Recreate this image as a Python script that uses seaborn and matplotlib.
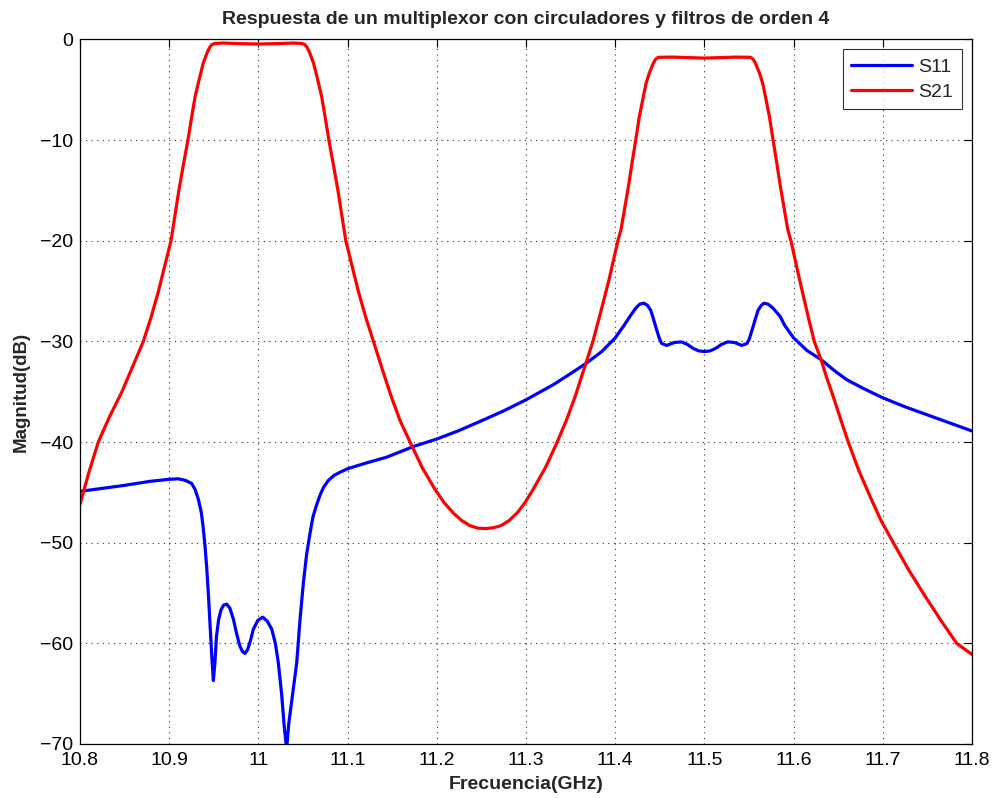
import matplotlib
matplotlib.use("Agg")
import matplotlib.pyplot as plt
import seaborn as sns
import pandas as pd

# S21 (red)
s21_freq = [10.800, 10.810, 10.8205, 10.833, 10.847, 10.859, 10.871, 10.880, 10.888, 10.895,
            10.902, 10.911, 10.916, 10.921, 10.925, 10.929, 10.9335, 10.938, 10.943, 10.946,
            10.948, 10.951, 10.960, 10.975, 11.000, 11.025, 11.040, 11.049, 11.052, 11.054,
            11.057, 11.062, 11.0665, 11.071, 11.075, 11.079, 11.084, 11.089, 11.098, 11.105,
            11.112, 11.120, 11.129, 11.139, 11.149, 11.159, 11.170, 11.184, 11.198, 11.208,
            11.2185, 11.228, 11.237, 11.246, 11.255, 11.264, 11.272, 11.281, 11.290, 11.299,
            11.308, 11.322, 11.335, 11.345, 11.355, 11.367, 11.375, 11.384, 11.393, 11.403,
            11.4065, 11.415, 11.419, 11.423, 11.427, 11.4315, 11.4345, 11.438, 11.443, 11.4455,
            11.4483, 11.465, 11.500, 11.535, 11.5517, 11.5545, 11.557, 11.562, 11.5655, 11.5685,
            11.573, 11.577, 11.581, 11.585, 11.5935, 11.597, 11.604, 11.611, 11.617, 11.6232,
            11.6307, 11.6375, 11.6445, 11.653, 11.6613, 11.673, 11.6857, 11.698, 11.7118, 11.729,
            11.7473, 11.765, 11.7828, 11.800]
s21_db = [-46.2, -43.0, -40.0, -37.5, -35.0, -32.5, -30.0, -27.5, -25.0, -22.5,
          -20.0, -14.9, -12.4, -10.0, -7.8, -5.7, -4.0, -2.4, -1.2, -0.7,
          -0.5, -0.4, -0.35, -0.4, -0.45, -0.4, -0.35, -0.4, -0.5, -0.7,
          -1.2, -2.4, -4.0, -5.7, -7.8, -10.0, -12.4, -14.9, -20.0, -22.5,
          -25.0, -27.5, -30.0, -32.8, -35.5, -37.9, -40.0, -42.6, -44.7, -46.0,
          -47.05, -47.8, -48.3, -48.55, -48.6, -48.5, -48.3, -47.8, -47.05, -46.0,
          -44.7, -42.5, -40.0, -37.9, -35.5, -32.2, -30.0, -27.0, -23.9, -20.0,
          -18.9, -14.5, -12.2, -10.0, -7.7, -5.7, -4.4, -3.4, -2.3, -1.95,
          -1.77, -1.75, -1.85, -1.75, -1.77, -1.95, -2.3, -3.4, -4.4, -5.7,
          -7.7, -10.0, -12.2, -14.5, -18.9, -20.0, -22.8, -25.5, -27.8, -30.0,
          -31.8, -33.7, -35.5, -37.8, -40.0, -42.8, -45.4, -47.8, -50.0, -52.7,
          -55.3, -57.7, -60.0, -61.1]

# S11 (blue)
s11_freq = [10.800, 10.850, 10.8785, 10.900, 10.910, 10.918, 10.925, 10.929, 10.9327, 10.936,
            10.938, 10.940, 10.942, 10.944, 10.9457, 10.9477, 10.9495, 10.9512, 10.953, 10.9555,
            10.958, 10.961, 10.9645, 10.968, 10.972, 10.9755, 10.979, 10.982, 10.985, 10.988,
            10.9915, 10.9943, 10.9995, 11.0048, 11.010, 11.015, 11.019, 11.0223, 11.026, 11.029,
            11.0317, 11.034, 11.038, 11.043, 11.0465, 11.0504, 11.054, 11.058, 11.061, 11.065,
            11.069, 11.073, 11.0785, 11.085, 11.0915, 11.100, 11.120, 11.1438, 11.175, 11.200,
            11.225, 11.2484, 11.275, 11.300, 11.3306, 11.350, 11.367, 11.385, 11.400, 11.410,
            11.4166, 11.423, 11.4275, 11.4323, 11.436, 11.4398, 11.443, 11.4465, 11.4495, 11.4521,
            11.4577, 11.462, 11.4665, 11.4745, 11.481, 11.4875, 11.494, 11.500, 11.506, 11.5125,
            11.519, 11.526, 11.5335, 11.538, 11.5418, 11.5479, 11.5505, 11.5535, 11.557, 11.5602,
            11.564, 11.5668, 11.5715, 11.577, 11.5848, 11.590, 11.600, 11.615, 11.6307, 11.645,
            11.6595, 11.680, 11.700, 11.725, 11.750, 11.775, 11.800]
s11_db = [-44.9, -44.3, -43.9, -43.7, -43.65, -43.8, -44.1, -44.7, -45.7, -47.0,
          -48.4, -50.2, -52.4, -55.2, -58.0, -61.2, -63.7, -62.0, -59.3, -57.6,
          -56.7, -56.2, -56.1, -56.5, -57.6, -59.0, -60.2, -60.8, -61.0, -60.6,
          -59.6, -58.6, -57.7, -57.4, -57.8, -58.6, -60.0, -61.9, -65.0, -68.3,
          -70.5, -68.0, -65.3, -61.9, -57.8, -54.0, -51.2, -49.0, -47.5, -46.3,
          -45.3, -44.5, -43.8, -43.3, -43.0, -42.65, -42.1, -41.5, -40.4, -39.7,
          -38.85, -37.95, -36.9, -35.8, -34.3, -33.2, -32.2, -31.0, -29.65, -28.4,
          -27.5, -26.7, -26.3, -26.2, -26.4, -26.9, -27.8, -28.85, -29.7, -30.2,
          -30.4, -30.25, -30.1, -30.05, -30.3, -30.7, -30.95, -31.0, -30.95, -30.7,
          -30.3, -30.05, -30.1, -30.25, -30.4, -30.2, -29.7, -28.85, -27.8, -26.9,
          -26.4, -26.2, -26.3, -26.7, -27.5, -28.4, -29.65, -30.9, -31.8, -32.85,
          -33.8, -34.75, -35.6, -36.5, -37.3, -38.1, -38.9]

x_ticks = [10.8, 10.9, 11.0, 11.1, 11.2, 11.3, 11.4, 11.5, 11.6, 11.7, 11.8]
x_tick_labels = ["10.8", "10.9", "11", "11.1", "11.2", "11.3", "11.4", "11.5", "11.6", "11.7", "11.8"]
y_ticks = [0, -10, -20, -30, -40, -50, -60, -70]

df = pd.concat([
    pd.DataFrame({"f": s11_freq, "db": s11_db, "serie": "S11"}),
    pd.DataFrame({"f": s21_freq, "db": s21_db, "serie": "S21"}),
], ignore_index=True)

sns.set_style("white")
plt.rcParams["font.family"] = ["Liberation Sans", "DejaVu Sans"]
plt.rcParams["axes.unicode_minus"] = True

fig = plt.figure(figsize=(9.95, 7.98), dpi=100)
ax = fig.add_axes([80 / 995, 1 - 744 / 798, 892 / 995, (744 - 39.5) / 798])

sns.lineplot(data=df, x="f", y="db", hue="serie", palette={"S11": "#0000ff", "S21": "#ff0000"},
             estimator=None, sort=True, linewidth=2.3, ax=ax)

ax.set_xlim(10.8, 11.8)
ax.set_ylim(-70, 0)
ax.set_xticks(x_ticks)
ax.set_xticklabels(x_tick_labels)
ax.set_yticks(y_ticks)
ax.grid(True, linestyle=(0, (1, 4)), color="#333333", linewidth=0.8)
ax.tick_params(direction="in", top=True, right=True, length=6, width=0.8,
               labelsize=14, colors="black")
ax.tick_params(axis="x", pad=6)
ax.tick_params(axis="y", pad=5)
for sp in ax.spines.values():
    sp.set_color("black")
    sp.set_linewidth(0.9)

ax.set_title("Respuesta de un multiplexor con circuladores y filtros de orden 4",
             fontsize=14, fontweight="bold", pad=11)
ax.set_xlabel("Frecuencia(GHz)", fontsize=14, fontweight="bold", labelpad=5)
ax.set_ylabel("Magnitud(dB)", fontsize=13.5, fontweight="bold", labelpad=7)

leg = ax.legend(loc="upper right", fontsize=14, frameon=True, fancybox=False,
                edgecolor="black", handlelength=3.1, handletextpad=0.35, borderpad=0.45,
                labelspacing=0.38, borderaxespad=0, bbox_to_anchor=(0.9888, 0.9861))
leg.get_frame().set_linewidth(0.8)
leg.set_title(None)

fig.savefig("out.png", dpi=100)
